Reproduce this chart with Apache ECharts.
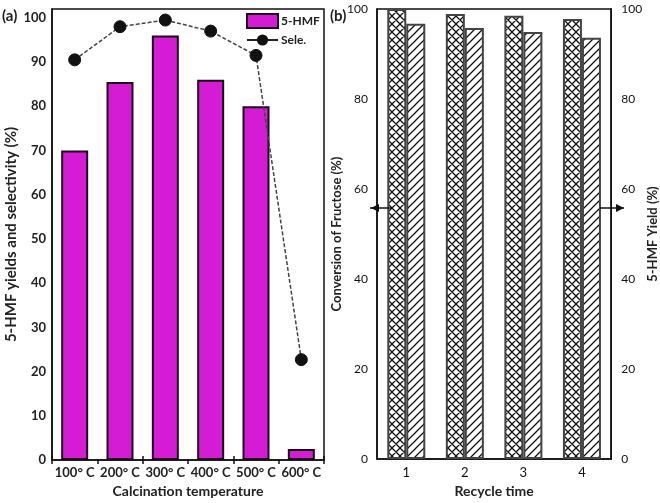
<!DOCTYPE html>
<html><head><meta charset="utf-8">
<script src="https://cdn.jsdelivr.net/npm/echarts@6/dist/echarts.min.js"></script>
<style>html,body{margin:0;padding:0;background:#fff}#c{width:660px;height:503px}</style>
</head><body><div id="c"></div>
<script>
// ---- data ----
const tempCategories = ['100° C','200° C','300° C','400° C','500° C','600° C'];
const hmfYield = [70, 85.5, 96, 86, 80, 2.5];
const selectivity = [90.5, 98, 99.5, 97, 91.5, 22.7];
const yTicksA = [0,10,20,30,40,50,60,70,80,90,100];

const recycleCategories = ['1','2','3','4'];
const conversion = [100, 98.9, 98.5, 97.8];
const recycleYield = [96.7, 95.8, 94.9, 93.6];

// ---- patterns (style only) ----
function makeTile(kind){
  const s = 8, c = document.createElement('canvas');
  c.width = s; c.height = s;
  const g = c.getContext('2d');
  g.fillStyle = '#fff'; g.fillRect(0,0,s,s);
  g.strokeStyle = '#111'; g.lineWidth = 1.3;
  g.beginPath();
  g.moveTo(0,s); g.lineTo(s,0);
  g.moveTo(-1,1); g.lineTo(1,-1);
  g.moveTo(s-1,s+1); g.lineTo(s+1,s-1);
  if(kind==='cross'){
    g.moveTo(0,0); g.lineTo(s,s);
    g.moveTo(-1,s-1); g.lineTo(1,s+1);
    g.moveTo(s-1,-1); g.lineTo(s+1,1);
  }
  g.stroke();
  return c;
}
const crossTile = makeTile('cross');
const diagTile = makeTile('diag');

const font = 'Lato, "Open Sans", sans-serif';
const chart = echarts.init(document.getElementById('c'), null, {renderer:'canvas'});

chart.setOption({
  animation:false,
  backgroundColor:'#fff',
  textStyle:{fontFamily:font},
  grid:[
    {left:52, right:336, top:9, bottom:39, show:true, borderColor:'#111', borderWidth:1.5, backgroundColor:'transparent'},
    {left:377, right:43, top:9, bottom:40, show:true, borderColor:'#111', borderWidth:1.5, backgroundColor:'transparent'}
  ],
  legend:{
    data:[
      {name:'5-HMF', icon:'rect'},
      {name:'Sele.', lineStyle:{type:'solid', color:'#222', width:2}}
    ],
    orient:'vertical', left:246, top:13,
    itemWidth:31, itemHeight:14, itemGap:5,
    textStyle:{fontFamily:font, fontSize:12, fontWeight:'bold', color:'#222', padding:[0,0,0,-2]},
    padding:[0,0,0,0]
  },
  xAxis:[
    {type:'category', gridIndex:0, data:tempCategories,
     axisLine:{lineStyle:{color:'#111', width:1.5}},
     axisTick:{show:true, alignWithLabel:false, length:4, lineStyle:{color:'#111', width:1.5}},
     axisLabel:{color:'#222', fontSize:13, fontWeight:'bold', fontFamily:font, margin:6, interval:0},
     name:'Calcination temperature', nameLocation:'middle', nameGap:24,
     nameTextStyle:{color:'#222', fontSize:14, fontWeight:'bold', fontFamily:font}},
    {type:'category', gridIndex:0, data:tempCategories, position:'bottom',
     axisLine:{show:false}, axisLabel:{show:false},
     axisTick:{show:true, inside:true, length:4, lineStyle:{color:'#111', width:1.5}}},
    {type:'category', gridIndex:1, data:recycleCategories,
     axisLine:{lineStyle:{color:'#111', width:1.5}},
     axisTick:{show:false},
     axisLabel:{color:'#111', fontSize:13, fontFamily:font, margin:7},
     name:'Recycle time', nameLocation:'middle', nameGap:24,
     nameTextStyle:{color:'#222', fontSize:14, fontWeight:'bold', fontFamily:font}}
  ],
  yAxis:[
    {type:'value', gridIndex:0, min:0, max:102, interval:10,
     axisLine:{show:true, lineStyle:{color:'#111', width:1.5}},
     axisTick:{show:false}, splitLine:{show:false},
     axisLabel:{color:'#222', fontSize:13, fontWeight:'bold', fontFamily:font, margin:6, showMaxLabel:false,
       formatter:v=> yTicksA.indexOf(v)>=0 ? String(v) : ''},
     name:'5-HMF yields and selectivity (%)', nameLocation:'middle', nameGap:33,
     nameTextStyle:{color:'#222', fontSize:15, fontWeight:'bold', fontFamily:font}},
    {type:'value', gridIndex:1, min:0, max:100, interval:20, position:'left',
     axisLine:{show:true, lineStyle:{color:'#111', width:1.5}},
     axisTick:{show:false}, splitLine:{show:false},
     axisLabel:{color:'#111', fontSize:12, fontFamily:font, margin:9},
     name:'Conversion of Fructose (%)', nameLocation:'middle', nameGap:30,
     nameTextStyle:{color:'#222', fontSize:13, fontWeight:'bold', fontFamily:font}},
    {type:'value', gridIndex:1, min:0, max:100, interval:20, position:'right',
     axisLine:{show:true, lineStyle:{color:'#111', width:1.5}},
     axisTick:{show:false}, splitLine:{show:false},
     axisLabel:{color:'#111', fontSize:12, fontFamily:font, margin:10},
     name:'5-HMF Yield (%)', nameLocation:'middle', nameGap:30,
     nameTextStyle:{color:'#222', fontSize:13, fontWeight:'bold', fontFamily:font}}
  ],
  series:[
    {name:'5-HMF', type:'bar', xAxisIndex:0, yAxisIndex:0, data:hmfYield,
     barWidth:27,
     itemStyle:{color:'#D41CD4', borderColor:'#1a0a1a', borderWidth:2}},
    {name:'Sele.', type:'line', xAxisIndex:0, yAxisIndex:0, data:selectivity,
     symbol:'circle', symbolSize:12, z:5,
     lineStyle:{color:'#444', width:1.5, type:[4,2]},
     itemStyle:{color:'#111', borderColor:'#111'}},
    {name:'Conversion', type:'bar', xAxisIndex:2, yAxisIndex:1, data:conversion,
     barWidth:19, barGap:'0%',
     itemStyle:{color:{image:crossTile, repeat:'repeat'}, borderColor:'#444', borderWidth:2}},
    {name:'Yield', type:'bar', xAxisIndex:2, yAxisIndex:2, data:recycleYield,
     barWidth:19, barGap:'0%',
     itemStyle:{color:{image:diagTile, repeat:'repeat'}, borderColor:'#444', borderWidth:2}}
  ],
  graphic:[
    {type:'text', left:2, top:9, style:{text:'(a)', font:'bold 15px '+font, fill:'#222'}},
    {type:'text', left:330, top:9, style:{text:'(b)', font:'bold 15px '+font, fill:'#222'}},
    {type:'line', shape:{x1:370,y1:208,x2:392,y2:208}, style:{stroke:'#111', lineWidth:1.5}, z:20},
    {type:'polygon', shape:{points:[[371,208],[379,204],[379,212]]}, style:{fill:'#111'}, z:20},
    {type:'line', shape:{x1:600,y1:208,x2:624,y2:208}, style:{stroke:'#111', lineWidth:1.5}, z:20},
    {type:'polygon', shape:{points:[[624,208],[616,204],[616,212]]}, style:{fill:'#111'}, z:20}
  ]
});
</script></body></html>
